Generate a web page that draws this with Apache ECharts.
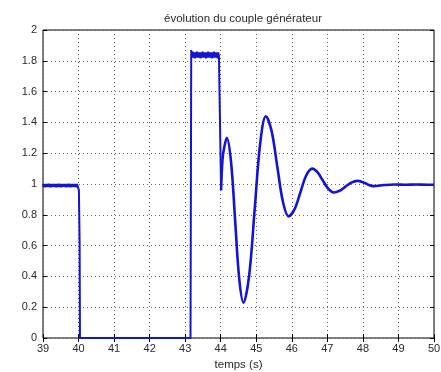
<!DOCTYPE html>
<html><head><meta charset="utf-8">
<script src="https://cdn.jsdelivr.net/npm/echarts/dist/echarts.min.js"></script>
<style>html,body{margin:0;padding:0;background:#fff}#c{width:441px;height:372px}</style>
</head><body><div id="c"></div>
<script>
// Step part (39 s → 44.01 s), noisy plateaus read as a band
const stepTime = [39.00,39.02,39.04,39.06,39.08,39.10,39.12,39.14,39.16,39.18,39.20,39.22,39.24,39.26,39.28,39.30,39.32,39.34,39.36,39.38,
  39.40,39.42,39.44,39.46,39.48,39.50,39.52,39.54,39.56,39.58,39.60,39.62,39.64,39.66,39.68,39.70,39.72,39.74,39.76,39.78,
  39.80,39.82,39.84,39.86,39.88,39.90,39.92,39.94,39.96,39.98,40.00,
  40.01,40.03,40.04,43.15,
  43.17,43.19,43.21,43.23,43.25,43.27,43.29,43.31,43.33,43.35,43.37,43.39,43.41,43.43,43.45,43.47,43.49,43.51,43.53,43.55,
  43.57,43.59,43.61,43.63,43.65,43.67,43.69,43.71,43.73,43.75,43.77,43.79,43.81,43.83,43.85,43.87,43.89,43.91,43.93,43.95,
  43.97,
  44.01];
const stepTorque = [1.0,0.98,1.0,0.978,1.0,0.982,1.0,0.98,1.002,0.98,1.0,0.978,1.0,0.98,1.0,0.982,1.0,0.98,1.0,0.978,
  1.0,0.98,1.002,0.98,1.0,0.978,1.0,0.98,1.0,0.982,1.0,0.98,1.0,0.978,1.0,0.98,1.002,0.98,1.0,0.978,
  1.0,0.98,1.0,0.982,1.0,0.98,1.0,0.978,1.0,0.98,0.99,
  0.96,0.62,0.0,0.0,
  1.87,1.82,1.86,1.82,1.855,1.815,1.855,1.82,1.86,1.82,1.855,1.82,1.855,1.815,1.855,1.82,1.86,1.82,1.855,1.82,
  1.855,1.815,1.855,1.82,1.86,1.82,1.855,1.82,1.855,1.815,1.855,1.82,1.86,1.82,1.855,1.82,1.855,1.815,1.855,1.83,
  1.84,
  0.96];
// Oscillation part (44.01 s → 50 s)
const oscTime = [44.01,44.05,44.10,44.17,44.29,44.405,44.52,44.64,44.80,44.955,45.11,45.27,45.43,45.59,45.75,45.91,
  46.075,46.24,46.405,46.57,46.72,46.875,47.03,47.18,47.345,47.51,47.675,47.84,48.0,48.15,48.3,48.6,48.9,49.2,49.5,49.8,50.0];
const oscTorque = [0.96,1.16,1.24,1.30,1.144,0.765,0.386,0.23,0.407,0.835,1.263,1.44,1.345,1.115,0.885,0.79,
  0.835,0.945,1.055,1.10,1.077,1.022,0.968,0.945,0.956,0.983,1.009,1.02,1.012,0.995,0.986,0.993,0.997,0.995,0.997,0.995,0.995];

const titleText = 'évolution du couple générateur';
const xName = 'temps (s)';

const lineColor = '#1414d2';
const txt = '#2a2a2a';
const font = 'Liberation Sans, Arial, sans-serif';
const gridLine = {show:true, lineStyle:{color:'#666', type:[1,3], width:1}};

const chart = echarts.init(document.getElementById('c'));
chart.setOption({
  animation:false,
  backgroundColor:'#fff',
  title:{text:titleText, left:238, top:8, textAlign:'center',
    textStyle:{fontSize:11.5, fontWeight:'normal', color:txt, fontFamily:font}},
  grid:{left:43, right:7, top:30, bottom:34, show:true, borderColor:'#000', borderWidth:1,
    backgroundColor:'#fff', containLabel:false, outerBoundsMode:'none'},
  xAxis:[{type:'value', min:39, max:50, interval:1, position:'bottom',
      name:xName, nameLocation:'middle', nameGap:18,
      nameTextStyle:{fontSize:11.5, color:txt, fontFamily:font},
      axisLine:{show:false}, axisTick:{inside:true, length:4, lineStyle:{color:'#000'}},
      axisLabel:{fontSize:11, color:txt, fontFamily:font, margin:5},
      splitLine:gridLine},
    {type:'value', min:39, max:50, interval:1, position:'top',
      axisLine:{show:false}, axisTick:{inside:true, length:4, lineStyle:{color:'#000'}},
      axisLabel:{show:false}, splitLine:{show:false}}],
  yAxis:[{type:'value', min:0, max:2, interval:0.2, position:'left',
      axisLine:{show:false}, axisTick:{inside:true, length:4, lineStyle:{color:'#000'}},
      axisLabel:{fontSize:11, color:txt, fontFamily:font, margin:6,
        formatter:v=>String(+v.toFixed(1))},
      splitLine:gridLine},
    {type:'value', min:0, max:2, interval:0.2, position:'right',
      axisLine:{show:false}, axisTick:{inside:true, length:4, lineStyle:{color:'#000'}},
      axisLabel:{show:false}, splitLine:{show:false}}],
  series:[
    {type:'line', xAxisIndex:0, yAxisIndex:0, showSymbol:false, symbol:'none',
      data:stepTime.map((t,i)=>[t, stepTorque[i]]),
      lineStyle:{color:lineColor, width:2}},
    {type:'line', xAxisIndex:0, yAxisIndex:0, showSymbol:false, symbol:'none', smooth:0.35,
      data:oscTime.map((t,i)=>[t, oscTorque[i]]),
      lineStyle:{color:lineColor, width:2.6}}
  ]
});
</script></body></html>
